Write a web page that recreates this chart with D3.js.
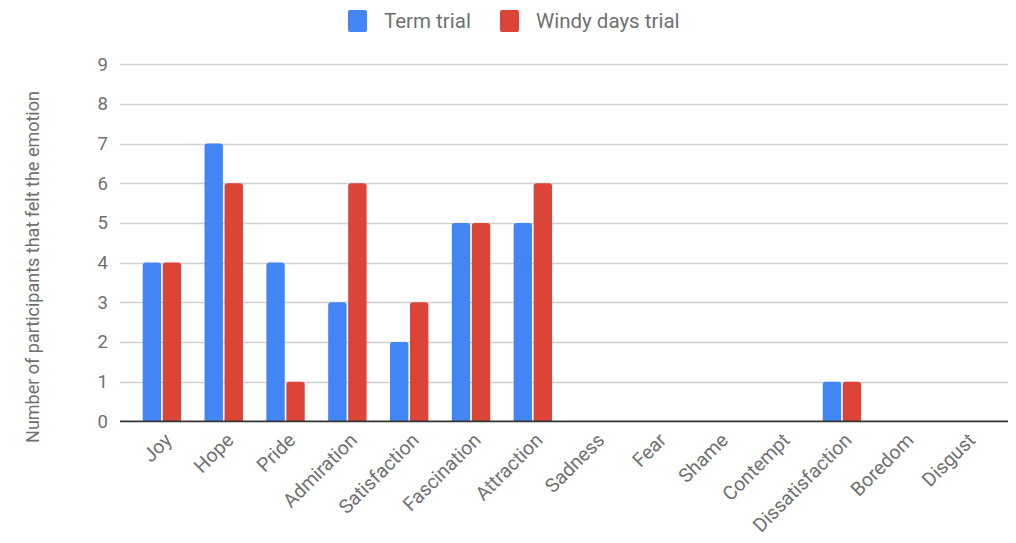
<!DOCTYPE html>
<html><head><meta charset="utf-8">
<script src="https://cdn.jsdelivr.net/npm/d3@7"></script>
<style>
html,body{margin:0;padding:0;background:#fff;}
svg{display:block;font-family:Roboto, Arial, sans-serif;}
</style></head>
<body><svg id="chart" width="1016" height="543"></svg>
<script>
const categories = ["Joy","Hope","Pride","Admiration","Satisfaction","Fascination","Attraction","Sadness","Fear","Shame","Contempt","Dissatisfaction","Boredom","Disgust"];
const seriesNames = ["Term trial","Windy days trial"];
const termTrial = [4,7,4,3,2,5,5,0,0,0,0,1,0,0];
const windyTrial = [4,6,1,6,3,5,6,0,0,0,0,1,0,0];
const yTicks = [0,1,2,3,4,5,6,7,8,9];
const colors = ["#4285F4","#DB4437"];
const yTitle = "Number of participants that felt the emotion";

const textColor = "#707070";
const svg = d3.select("#chart");
const plotLeft = 120, plotRight = 1008;
const x = d3.scaleBand().domain(categories).range([131, 996.5]);
const y = d3.scaleLinear().domain([0, 9]).range([421.4, 64.1]);
const sub = d3.scaleBand().domain(seriesNames).range([-19.2, 19.2]).paddingInner(0.08);

// gridlines
svg.append("g").selectAll("line").data(yTicks.filter(d => d > 0)).join("line")
  .attr("x1", plotLeft).attr("x2", plotRight)
  .attr("y1", d => Math.round(y(d)) + 0.5).attr("y2", d => Math.round(y(d)) + 0.5)
  .attr("stroke", "#d0d0d0").attr("stroke-width", 1.3);

// y tick labels
const yAxis = d3.axisLeft(y).tickValues(yTicks).tickSize(0).tickPadding(0);
const ya = svg.append("g").attr("transform", `translate(108,0)`).call(yAxis);
ya.select(".domain").remove();
ya.selectAll("text").attr("fill", textColor).attr("font-size", 18.5).attr("font-family", "Roboto");

// bars
const data = categories.map((c, i) => ({cat: c, vals: [termTrial[i], windyTrial[i]]}));
const groups = svg.append("g").selectAll("g").data(data).join("g")
  .attr("transform", d => `translate(${x(d.cat) + x.bandwidth() / 2},0)`);
const r = 3;
groups.selectAll("path").data(d => d.vals.map((v, j) => ({v, s: seriesNames[j], j}))).join("path")
  .filter(d => d.v > 0)
  .attr("fill", d => colors[d.j])
  .attr("d", d => {
    const x0 = sub(d.s), w = sub.bandwidth();
    const top = y(d.v), bot = y(0);
    return `M${x0},${bot}V${top + r}Q${x0},${top} ${x0 + r},${top}H${x0 + w - r}Q${x0 + w},${top} ${x0 + w},${top + r}V${bot}Z`;
  });

// baseline
svg.append("line").attr("x1", plotLeft).attr("x2", plotRight)
  .attr("y1", y(0)).attr("y2", y(0)).attr("stroke", "#333").attr("stroke-width", 1.6);

// x labels
const xAxis = d3.axisBottom(x).tickSize(0).tickPadding(0);
const xa = svg.append("g").attr("transform", `translate(0,${y(0)})`).call(xAxis);
xa.select(".domain").remove();
xa.selectAll("text")
  .attr("fill", textColor).attr("font-size", 19.5).attr("font-family", "Roboto")
  .attr("text-anchor", "end").attr("dy", "0")
  .attr("transform", "translate(11,20) rotate(-45)");

// y title
svg.append("text")
  .attr("transform", "translate(39,267) rotate(-90)")
  .attr("text-anchor", "middle")
  .attr("fill", textColor).attr("font-size", 18)
  .text(yTitle);

// legend
const legend = svg.append("g");
const legendX = [348, 500];
seriesNames.forEach((s, i) => {
  const g = legend.append("g").attr("transform", `translate(${legendX[i]},10)`);
  g.append("rect").attr("width", 19).attr("height", 22).attr("rx", 2).attr("fill", colors[i]);
  g.append("text").attr("x", 36).attr("y", 18).attr("fill", textColor).attr("font-size", 20.5).text(s);
});
</script></body></html>
